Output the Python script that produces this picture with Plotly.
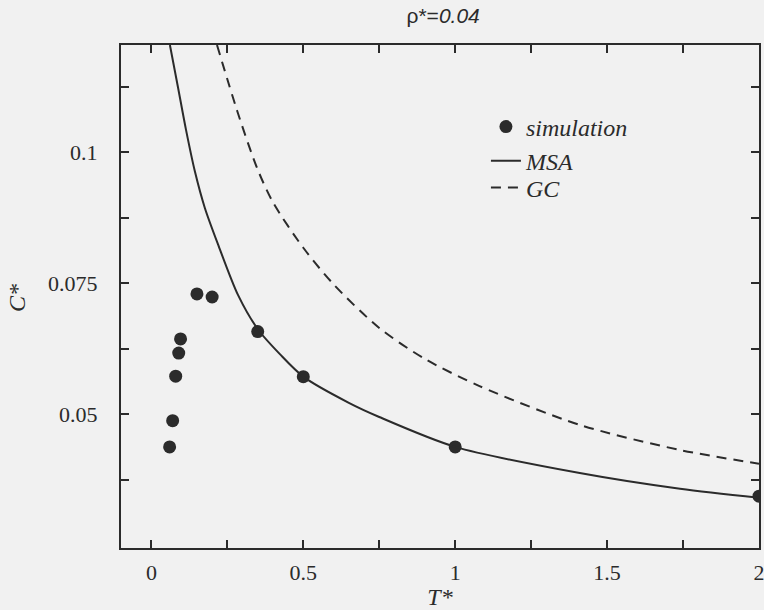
import plotly.graph_objects as go

# simulation points
sim_T = [0.06, 0.07, 0.08, 0.09, 0.096, 0.15, 0.2, 0.35, 0.5, 1.0, 2.0]
sim_C = [0.0438, 0.0488, 0.0573, 0.0617, 0.0644, 0.0730, 0.0724, 0.0658, 0.0572, 0.0438, 0.0344]

# MSA curve
msa_T = [0.061, 0.088, 0.114, 0.1435, 0.176, 0.219, 0.285, 0.351, 0.423, 0.5, 0.65, 0.75, 1.0, 1.41, 1.74, 2.0]
msa_C = [0.1205, 0.1123, 0.1043, 0.0963, 0.0894, 0.0825, 0.0728, 0.0662, 0.0615, 0.0572, 0.0522, 0.0495, 0.0438, 0.0388, 0.0358, 0.0341]

# GC curve
gc_T = [0.216, 0.282, 0.348, 0.40, 0.5, 0.6, 0.75, 0.9, 1.08, 1.41, 1.74, 2.0]
gc_C = [0.1205, 0.1080, 0.0970, 0.0905, 0.0818, 0.0748, 0.0665, 0.0606, 0.0554, 0.0480, 0.0432, 0.0406]

x_ticks = [0, 0.5, 1, 1.5, 2]
x_ticktext = ["0", "0.5", "1", "1.5", "2"]
x_minor = [0.25, 0.75, 1.25, 1.75]
y_ticks = [0.05, 0.075, 0.1]
y_ticktext = ["0.05", "0.075", "0.1"]
y_minor = [0.0375, 0.0625, 0.0875, 0.1125]

INK = "#2b2b2b"
BG = "#f1f1f1"
SERIF = "Liberation Serif, Times New Roman, serif"
SANS = "Liberation Sans, Arial, sans-serif"

fig = go.Figure()
fig.add_trace(go.Scatter(x=sim_T, y=sim_C, mode="markers", name="simulation", legend="legend",
                         marker=dict(size=13, color=INK)))
fig.add_trace(go.Scatter(x=msa_T, y=msa_C, mode="lines", name="MSA", legend="legend2",
                         line=dict(color=INK, width=2, shape="spline", smoothing=0.8)))
fig.add_trace(go.Scatter(x=gc_T, y=gc_C, mode="lines", name="GC", legend="legend3",
                         line=dict(color=INK, width=2, dash="10px,7px", shape="spline", smoothing=0.8)))

axis_common = dict(showline=True, linecolor=INK, linewidth=2, mirror="ticks",
                   ticks="inside", ticklen=8, tickwidth=1.5, tickcolor=INK,
                   showgrid=False, zeroline=False, automargin=False,
                   ticklabeloverflow="allow",
                   tickfont=dict(family=SERIF, size=22, color=INK))

fig.update_xaxes(range=[-0.1, 2.0], tickmode="array", tickvals=x_ticks, ticktext=x_ticktext,
                 minor=dict(tickmode="array", tickvals=x_minor, ticks="inside", ticklen=8,
                            tickwidth=1.5, tickcolor=INK, showgrid=False),
                 title=dict(text="<i>T*</i>", font=dict(family=SERIF, size=24, color=INK), standoff=6),
                 ticklabelstandoff=4,
                 **axis_common)
fig.update_yaxes(range=[0.0245, 0.1205], tickmode="array", tickvals=y_ticks, ticktext=y_ticktext,
                 minor=dict(tickmode="array", tickvals=y_minor, ticks="inside", ticklen=8,
                            tickwidth=1.5, tickcolor=INK, showgrid=False),
                 ticklabelstandoff=17,
                 **axis_common)

leg_common = dict(x=0.572, xanchor="left", yanchor="middle", bgcolor="rgba(0,0,0,0)",
                  font=dict(family=SERIF, size=24, color=INK, style="italic"), itemwidth=30)

fig.update_layout(
    width=764, height=610,
    margin=dict(l=121, r=5, t=45, b=62),
    paper_bgcolor=BG, plot_bgcolor=BG,
    title=dict(text="ρ*=<i>0.04</i>", x=0.58, xanchor="center", y=0.975, yanchor="middle",
               font=dict(family=SANS, size=21, color=INK)),
    showlegend=True,
    legend=dict(y=0.837, **leg_common),
    legend2=dict(y=0.769, **leg_common),
    legend3=dict(y=0.716, **leg_common),
    annotations=[dict(text="<i>C*</i>", xref="paper", yref="paper", x=-0.163, y=0.497,
                      xanchor="center", yanchor="middle",
                      textangle=-90, showarrow=False,
                      font=dict(family=SERIF, size=24, color=INK))],
)

fig.write_html("out.html")
